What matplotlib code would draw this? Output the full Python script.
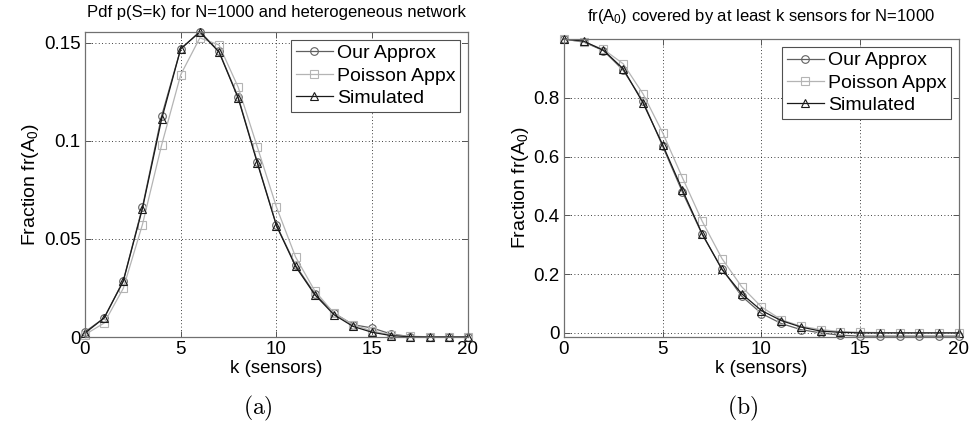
import matplotlib
matplotlib.use("Agg")
import matplotlib.pyplot as plt
import numpy as np

plt.rcParams['font.family'] = ['Liberation Sans', 'DejaVu Sans']
plt.rcParams['mathtext.fontset'] = 'custom'
plt.rcParams['mathtext.rm'] = 'Liberation Sans'
plt.rcParams['mathtext.it'] = 'Liberation Sans'

k = list(range(21))

# Panel (a): pdf
pdf_our = [0.0026, 0.0097, 0.0287, 0.0662, 0.1126, 0.1470, 0.1558, 0.1457, 0.1224, 0.0893,
           0.0571, 0.0366, 0.0221, 0.0122, 0.0063, 0.0046, 0.0015, 0.0002, 0.0, 0.0, 0.0]
pdf_poisson = [0.0012, 0.0071, 0.0248, 0.0573, 0.0978, 0.1338, 0.1526, 0.1490, 0.1275, 0.0970,
               0.0663, 0.0408, 0.0236, 0.0122, 0.0063, 0.0030, 0.0011, 0.0004, 0.0001, 0.0, 0.0]
pdf_sim = [0.0020, 0.0097, 0.0284, 0.0655, 0.1110, 0.1470, 0.1556, 0.1454, 0.1219, 0.0888,
           0.0568, 0.0360, 0.0216, 0.0114, 0.0054, 0.0024, 0.0007, 0.0001, 0.0, 0.0, 0.0]

# Panel (b): fraction covered by at least k sensors
cov_our = [1.0, 0.990, 0.961, 0.894, 0.789, 0.635, 0.479, 0.335, 0.218, 0.125,
           0.066, 0.032, 0.011, 0.0, -0.008, -0.011, -0.011, -0.011, -0.011, -0.011, -0.011]
cov_poisson = [1.0, 0.990, 0.965, 0.916, 0.814, 0.681, 0.528, 0.380, 0.253, 0.157,
               0.0885, 0.045, 0.0227, 0.0113, 0.0045, 0.002, 0.001, 0.0004, 0.0, 0.0, 0.0]
cov_sim = [1.0, 0.993, 0.962, 0.899, 0.783, 0.640, 0.486, 0.337, 0.216, 0.133,
           0.076, 0.042, 0.020, 0.006, 0.002, 0.0, 0.0, 0.0, 0.0, 0.0, 0.0]

series_names = ["Our Approx", "Poisson Appx", "Simulated"]
colors = ["#606060", "#b4b4b4", "#1a1a1a"]
markers = ["o", "s", "^"]

titles = ["Pdf p(S=k) for N=1000 and heterogeneous network",
          r"fr(A$_0$) covered by at least k sensors for N=1000"]
panel_labels = ["(a)", "(b)"]

fig = plt.figure(figsize=(9.71, 4.33), dpi=100)
ax1 = fig.add_axes([0.0875, 0.2217, 0.3944, 0.7044])
ax2 = fig.add_axes([0.5808, 0.2217, 0.4068, 0.688])

def style(ax, data, ylim, yticks, yticklabels, title, plabel, tpad):
    for vals, name, c, m in zip(data, series_names, colors, markers):
        ax.plot(k, vals, color=c, marker=m, markersize=5.5, markerfacecolor='none',
                markeredgecolor=c, markeredgewidth=0.8, linewidth=0.9, label=name,
                clip_on=False)
    ax.set_xlim(0, 20)
    ax.set_ylim(*ylim)
    ax.set_xticks([0, 5, 10, 15, 20])
    ax.set_yticks(yticks)
    ax.set_yticklabels(yticklabels)
    ax.tick_params(direction='in', length=4, width=0.7, top=True, right=True,
                   labelsize=13.5, colors='#555555', labelcolor='black', pad=3)
    ax.grid(True, linestyle=(0, (1, 3)), color='black', linewidth=0.6)
    for s in ax.spines.values():
        s.set_color('#707070')
        s.set_linewidth(0.9)
    ax.set_xlabel("k (sensors)", fontsize=13.5, labelpad=1)
    ax.set_ylabel(r"Fraction fr(A$_0$)", fontsize=14, labelpad=2)
    ax.set_title(title, fontsize=12, pad=tpad)
    leg = ax.legend(loc='upper right', fontsize=14, handlelength=1.9, handletextpad=0.2,
                    borderpad=0.25, labelspacing=0.25, fancybox=False, framealpha=1,
                    edgecolor='#505050', borderaxespad=0.4)
    leg.get_frame().set_linewidth(0.8)
    bb = ax.get_position()
    fig.text(bb.x0 + bb.width / 2 - 0.019, 0.022, "$\\mathrm{" + plabel + "}$", ha='center',
             va='bottom', fontsize=17, math_fontfamily='cm')

style(ax1, [pdf_our, pdf_poisson, pdf_sim], (0, 0.1556), [0, 0.05, 0.1, 0.15],
      ["0", "0.05", "0.1", "0.15"], titles[0], panel_labels[0], 11)
style(ax2, [cov_our, cov_poisson, cov_sim], (-0.014, 1.0), [0, 0.2, 0.4, 0.6, 0.8],
      ["0", "0.2", "0.4", "0.6", "0.8"], titles[1], panel_labels[1], 13)

fig.savefig("out.png", dpi=100)
